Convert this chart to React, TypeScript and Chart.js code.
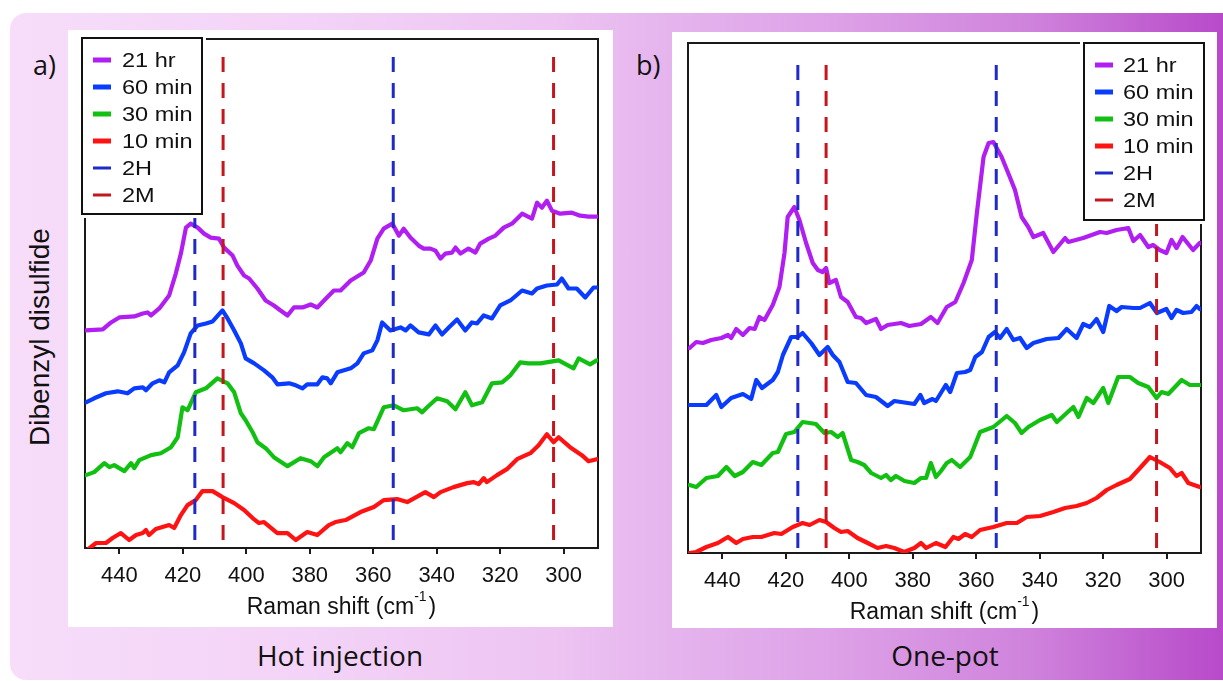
import React, { useEffect, useRef } from "react";
import { Chart, registerables } from "chart.js";

Chart.register(...registerables);

// ---------- data ----------
const TICK_VALUES = [440, 420, 400, 380, 360, 340, 320, 300];
const X_MIN = 289.2;
const X_MAX = 450.8;
const Y_MAX = 510;
const SERIES_LABELS = ["21 hr", "60 min", "30 min", "10 min"];
const REF_LABELS = ["2H", "2M"];
const PEAKS_2H = [416.2, 353.7];
const PEAKS_2M = [407.3, 303.2];
const PANEL_TITLES = ["Hot injection", "One-pot"];
const PANEL_TAGS = ["a)", "b)"];
const Y_TITLE = "Dibenzyl disulfide";

// Hot injection
const hot21hX = [450.5, 445.2, 442.6, 440.0, 435.3, 432.6, 431.1, 430.0, 427.4, 424.3, 422.2, 420.6, 419.0, 417.5, 415.3, 413.3, 411.2, 408.6, 407.0, 404.3, 402.8, 400.7, 399.1, 396.5, 393.9, 391.3, 389.2, 387.0, 385.0, 382.3, 379.7, 377.6, 375.5, 372.4, 370.3, 367.1, 363.0, 360.8, 358.7, 356.7, 354.0, 351.9, 350.4, 348.3, 345.7, 344.1, 342.0, 340.4, 338.8, 337.3, 335.2, 334.1, 332.5, 330.0, 327.8, 326.3, 323.6, 321.5, 318.9, 316.3, 313.1, 310.0, 308.4, 306.9, 305.3, 303.7, 301.1, 297.4, 294.8, 292.2, 289.6];
const hot21hY = [218, 219, 226, 231, 232, 235, 236, 233, 240, 253, 275, 295, 321, 325, 321, 315, 311, 310, 301, 293, 283, 273, 270, 260, 248, 243, 238, 233, 241, 241, 244, 241, 248, 258, 258, 268, 276, 288, 310, 320, 325, 313, 320, 311, 303, 300, 300, 298, 290, 295, 296, 301, 295, 300, 296, 305, 310, 313, 321, 325, 335, 330, 346, 341, 348, 338, 335, 336, 333, 332, 332];

const hot60X = [450.5, 447.9, 444.2, 440.5, 437.4, 435.3, 432.6, 431.6, 429.5, 427.4, 425.8, 424.3, 421.6, 419.6, 417.5, 415.3, 412.7, 410.6, 407.5, 405.9, 403.8, 401.7, 400.2, 397.5, 394.4, 391.8, 390.2, 386.5, 384.4, 382.3, 380.8, 377.6, 376.0, 374.5, 373.4, 371.3, 367.1, 365.0, 363.0, 360.3, 358.7, 357.2, 354.6, 351.4, 349.8, 348.3, 345.7, 342.5, 340.4, 338.3, 336.2, 333.6, 331.0, 328.9, 327.3, 325.2, 322.6, 320.0, 316.8, 313.1, 310.0, 308.4, 305.3, 302.1, 300.6, 298.5, 295.9, 293.2, 290.6, 289.6];
const hot60Y = [146, 150, 155, 157, 155, 160, 161, 158, 165, 168, 166, 176, 183, 196, 215, 223, 225, 227, 238, 230, 218, 205, 190, 185, 178, 171, 164, 165, 163, 160, 164, 164, 171, 170, 165, 176, 180, 185, 195, 198, 208, 226, 218, 221, 218, 223, 216, 214, 223, 214, 221, 229, 218, 226, 225, 233, 230, 243, 248, 258, 255, 260, 263, 264, 270, 260, 260, 251, 261, 261];

const hot30X = [450.5, 447.9, 444.7, 443.1, 441.6, 438.4, 436.3, 435.3, 433.7, 430.0, 426.9, 423.7, 421.6, 420.1, 418.5, 417.5, 415.9, 412.7, 409.1, 405.9, 403.8, 401.7, 400.2, 398.0, 396.5, 393.9, 391.3, 387.0, 382.9, 379.7, 377.6, 375.5, 371.3, 370.3, 368.2, 366.6, 364.5, 361.4, 359.8, 356.7, 353.5, 350.4, 346.2, 344.6, 343.0, 339.9, 336.7, 334.1, 331.0, 328.9, 325.7, 322.6, 319.4, 316.8, 313.7, 311.1, 307.4, 301.6, 296.9, 295.3, 291.7, 289.6];
const hot30Y = [73, 76, 85, 81, 83, 77, 85, 80, 88, 93, 95, 101, 111, 141, 138, 145, 156, 160, 170, 165, 156, 135, 128, 116, 106, 100, 91, 82, 90, 87, 82, 91, 100, 96, 105, 101, 115, 120, 119, 141, 143, 138, 140, 136, 141, 150, 147, 139, 156, 143, 146, 165, 166, 173, 186, 185, 185, 188, 180, 190, 184, 188];

const hot10X = [450.5, 448.9, 447.3, 444.2, 442.1, 439.5, 436.9, 434.7, 432.6, 431.6, 430.6, 428.5, 424.3, 422.7, 420.6, 418.5, 415.9, 413.8, 410.6, 407.5, 403.8, 400.7, 398.0, 396.0, 394.4, 390.2, 387.0, 384.4, 380.8, 377.6, 374.0, 371.9, 368.7, 364.0, 359.8, 356.7, 352.5, 349.3, 343.6, 340.9, 338.8, 334.7, 330.4, 328.3, 326.8, 325.2, 324.2, 321.0, 317.9, 314.7, 310.5, 307.9, 305.3, 303.2, 301.6, 298.0, 294.3, 292.2, 289.6];
const hot10Y = [-3, 1, 5, 5, 10, 15, 8, 13, 15, 18, 13, 19, 23, 20, 33, 43, 48, 57, 57, 51, 45, 38, 30, 25, 26, 15, 15, 8, 16, 13, 23, 26, 28, 36, 41, 48, 49, 46, 56, 51, 56, 61, 65, 66, 64, 70, 66, 73, 79, 89, 95, 103, 114, 106, 111, 101, 93, 87, 89];

// One-pot
const pot21hX = [450.3, 448.2, 446.1, 443.5, 440.3, 438.2, 437.2, 435.6, 433.5, 431.4, 429.8, 428.3, 426.7, 424.1, 422.0, 420.4, 419.4, 417.3, 415.7, 413.6, 411.5, 409.9, 408.4, 407.3, 406.3, 404.2, 402.6, 400.5, 397.9, 396.3, 394.7, 391.6, 390.0, 387.9, 383.7, 381.1, 377.4, 374.3, 372.2, 369.3, 366.6, 364.0, 361.4, 359.8, 357.7, 356.1, 354.6, 352.0, 349.3, 347.8, 345.7, 343.6, 342.0, 338.9, 335.7, 332.0, 331.0, 326.3, 321.0, 318.9, 315.8, 312.1, 310.5, 308.4, 305.8, 304.3, 302.2, 300.1, 298.5, 296.9, 295.0, 291.7, 289.6];
const pot21hY = [205, 211, 210, 213, 215, 218, 215, 224, 218, 225, 224, 236, 233, 248, 266, 300, 336, 346, 333, 310, 290, 283, 281, 285, 270, 273, 256, 251, 236, 235, 230, 234, 224, 228, 230, 227, 229, 236, 230, 246, 251, 270, 293, 340, 396, 410, 411, 396, 375, 363, 336, 326, 316, 320, 301, 315, 311, 315, 321, 320, 323, 325, 312, 318, 306, 308, 303, 300, 313, 305, 316, 303, 310];

const pot60X = [450.3, 445.0, 441.9, 440.3, 437.2, 433.5, 430.9, 429.3, 427.5, 424.1, 422.5, 420.9, 418.3, 416.2, 414.7, 412.0, 409.4, 406.8, 405.2, 403.1, 400.5, 397.9, 394.7, 391.6, 387.9, 385.8, 379.5, 377.6, 376.4, 373.8, 372.7, 369.6, 368.2, 366.1, 363.5, 361.9, 360.3, 358.2, 356.1, 354.1, 352.5, 350.4, 348.3, 346.2, 344.1, 342.0, 337.8, 334.1, 331.5, 328.4, 326.3, 324.2, 322.1, 320.0, 318.1, 315.8, 314.2, 310.5, 308.4, 305.3, 303.1, 300.1, 298.5, 296.9, 294.8, 292.2, 290.6, 289.6];
const pot60Y = [148, 148, 158, 146, 155, 159, 154, 173, 165, 173, 181, 198, 216, 216, 220, 210, 198, 206, 198, 191, 171, 170, 158, 156, 147, 152, 149, 158, 150, 154, 152, 168, 161, 180, 181, 183, 196, 201, 216, 221, 215, 224, 213, 215, 205, 210, 214, 215, 224, 215, 229, 226, 234, 221, 247, 242, 246, 245, 245, 250, 240, 244, 235, 243, 240, 241, 247, 244];

const pot30X = [450.3, 448.2, 445.0, 441.4, 438.7, 436.1, 433.5, 430.4, 427.7, 424.1, 422.5, 419.9, 417.3, 414.7, 412.5, 410.5, 407.8, 405.7, 403.6, 402.1, 399.4, 397.4, 395.3, 393.1, 390.0, 388.4, 386.9, 385.3, 382.6, 379.5, 377.4, 375.8, 374.3, 372.7, 371.1, 369.3, 367.7, 365.1, 361.9, 358.8, 354.6, 350.4, 347.8, 345.7, 343.6, 339.9, 336.2, 334.6, 331.5, 329.4, 327.8, 325.2, 323.1, 320.0, 318.4, 315.3, 311.6, 309.0, 305.8, 303.2, 301.6, 299.5, 295.3, 292.7, 289.6];
const pot30Y = [68, 66, 75, 77, 86, 77, 81, 91, 88, 100, 101, 119, 121, 131, 130, 129, 120, 121, 116, 120, 93, 91, 88, 80, 75, 78, 73, 77, 72, 70, 75, 75, 90, 76, 82, 90, 93, 86, 96, 121, 126, 137, 130, 120, 126, 133, 138, 131, 140, 146, 136, 155, 150, 165, 150, 176, 176, 170, 166, 155, 161, 159, 173, 168, 168];

const pot10X = [450.3, 448.2, 445.0, 441.4, 438.2, 435.6, 433.5, 430.4, 427.7, 423.6, 421.4, 417.8, 414.7, 412.5, 409.4, 407.3, 404.7, 402.6, 400.5, 397.4, 394.2, 391.1, 388.4, 385.8, 382.7, 379.5, 377.4, 375.8, 372.7, 369.7, 367.2, 365.6, 363.5, 361.4, 358.8, 354.6, 350.4, 347.2, 344.1, 339.9, 335.7, 332.0, 328.4, 325.2, 322.1, 318.9, 315.8, 311.6, 308.4, 305.3, 302.2, 299.0, 296.9, 295.3, 293.2, 289.6];
const pot10Y = [0, 1, 6, 10, 16, 10, 14, 16, 16, 20, 19, 26, 30, 28, 33, 31, 25, 21, 22, 15, 10, 5, 7, 5, 1, 5, 10, 5, 10, 6, 16, 14, 19, 16, 23, 26, 30, 30, 36, 37, 41, 45, 47, 50, 55, 63, 68, 74, 85, 96, 91, 85, 77, 80, 70, 66];

// ---------- styles ----------
const SERIES_COLORS = ["#b01ef2", "#0a3cff", "#12c012", "#ff1212"];
const REF_COLORS = ["#1f2bc8", "#c4161f"];
const AXIS_COLOR = "#1a1a1a";
const TEXT_COLOR = "#111111";
const SANS = '"Liberation Sans", Arial, Helvetica, sans-serif';
const DECOR = '"Open Sans", "Noto Sans", sans-serif';

type PanelCfg = {
  left: number;
  top: number;
  w: number;
  h: number;
  pad: { left: number; right: number; top: number; bottom: number };
  axisH: number;
  refTop: number;
  legend: { x: number; y: number; w: number; h: number; swX: number; txtX: number; row0: number; step: number };
  series: { xs: number[]; ys: number[] }[];
};

const refData = (peaks: number[], top: number) => [
  { x: peaks[0], y: top },
  { x: peaks[0], y: 0 },
  { x: (peaks[0] + peaks[1]) / 2, y: null },
  { x: peaks[1], y: top },
  { x: peaks[1], y: 0 },
];

function Panel({ cfg }: { cfg: PanelCfg }) {
  const ref = useRef<HTMLCanvasElement | null>(null);
  useEffect(() => {
    const canvas = ref.current;
    if (!canvas) return;

    const framePlugin = {
      id: "frame",
      beforeDatasetsDraw(chart: any) {
        const { ctx, chartArea } = chart;
        const { left, right, top, bottom } = chartArea;
        ctx.save();
        ctx.strokeStyle = AXIS_COLOR;
        ctx.lineWidth = 2;
        ctx.beginPath();
        ctx.moveTo(left, bottom);
        ctx.lineTo(left, top);
        ctx.lineTo(right, top);
        ctx.lineTo(right, bottom);
        ctx.stroke();
        ctx.restore();
      },
    };

    const legendPlugin = {
      id: "boxLegend",
      afterDraw(chart: any) {
        const { ctx } = chart;
        const L = cfg.legend;
        ctx.save();
        ctx.fillStyle = "#ffffff";
        ctx.fillRect(L.x - 4, L.y - 4, L.w + 8, L.h + 8);
        ctx.strokeStyle = "#111";
        ctx.lineWidth = 2;
        ctx.strokeRect(L.x, L.y, L.w, L.h);
        const items = [
          ...SERIES_LABELS.map((t, i) => ({ t, c: SERIES_COLORS[i], lw: 5 })),
          ...REF_LABELS.map((t, i) => ({ t, c: REF_COLORS[i], lw: 3 })),
        ];
        items.forEach((it, i) => {
          const y = L.row0 + i * L.step;
          ctx.strokeStyle = it.c;
          ctx.lineWidth = it.lw;
          ctx.beginPath();
          ctx.moveTo(L.swX, y);
          ctx.lineTo(L.swX + 18, y);
          ctx.stroke();
          ctx.save();
          ctx.translate(L.txtX, y);
          ctx.scale(1.12, 1);
          ctx.fillStyle = TEXT_COLOR;
          ctx.font = `21px ${SANS}`;
          ctx.textBaseline = "middle";
          ctx.textAlign = "left";
          ctx.fillText(it.t, 0, 1);
          ctx.restore();
        });
        ctx.restore();
      },
    };

    const titlePlugin = {
      id: "axisTitle",
      afterDraw(chart: any) {
        const { ctx, chartArea } = chart;
        const main = "Raman shift (cm";
        const sup = "-1";
        const close = ")";
        ctx.save();
        ctx.fillStyle = TEXT_COLOR;
        ctx.textBaseline = "alphabetic";
        ctx.textAlign = "left";
        ctx.font = `23px ${SANS}`;
        const wMain = ctx.measureText(main).width;
        const wClose = ctx.measureText(close).width;
        ctx.font = `14px ${SANS}`;
        const wSup = ctx.measureText(sup).width;
        const total = wMain + wSup + 2 + wClose;
        const cx = (chartArea.left + chartArea.right) / 2;
        const base = chartArea.bottom + 65.5;
        let x = cx - total / 2;
        ctx.font = `23px ${SANS}`;
        ctx.fillText(main, x, base);
        x += wMain;
        ctx.font = `14px ${SANS}`;
        ctx.fillText(sup, x, base - 13);
        x += wSup + 2;
        ctx.font = `23px ${SANS}`;
        ctx.fillText(close, x, base);
        ctx.restore();
      },
    };

    const seriesSets = cfg.series.map((s, i) => ({
      label: SERIES_LABELS[i],
      data: s.xs.map((x, j) => ({ x, y: s.ys[j] })),
      borderColor: SERIES_COLORS[i],
      backgroundColor: SERIES_COLORS[i],
      borderWidth: 4.2,
      pointRadius: 0,
      tension: 0,
      fill: false,
      order: 2,
      borderJoinStyle: "round",
      borderCapStyle: "round",
    }));
    const refSets = [PEAKS_2H, PEAKS_2M].map((p, i) => ({
      label: REF_LABELS[i],
      data: refData(p, cfg.refTop),
      borderColor: REF_COLORS[i],
      backgroundColor: REF_COLORS[i],
      borderWidth: 3,
      borderDash: [15, 11],
      pointRadius: 0,
      fill: false,
      spanGaps: false,
      order: 1,
    }));

    const chart = new Chart(canvas, {
      type: "line",
      data: { datasets: [...seriesSets, ...refSets] as any },
      options: {
        responsive: false,
        animation: false,
        devicePixelRatio: 1,
        layout: { padding: cfg.pad },
        plugins: { legend: { display: false }, tooltip: { enabled: false } },
        scales: {
          x: {
            type: "linear",
            reverse: true,
            min: X_MIN,
            max: X_MAX,
            afterBuildTicks: (scale: any) => {
              scale.ticks = TICK_VALUES.map((v) => ({ value: v }));
            },
            afterFit: (scale: any) => {
              scale.height = cfg.axisH;
              scale.paddingLeft = 0;
              scale.paddingRight = 0;
            },
            ticks: {
              autoSkip: false,
              maxRotation: 0,
              padding: 9,
              color: TEXT_COLOR,
              font: { family: SANS, size: 22 },
              callback: (v: any) => String(v),
            },
            grid: {
              drawOnChartArea: false,
              drawTicks: true,
              tickLength: 6,
              color: AXIS_COLOR,
              lineWidth: 2,
            },
            border: { display: true, color: AXIS_COLOR, width: 2 },
          },
          y: { type: "linear", display: false, min: 0, max: Y_MAX },
        },
      } as any,
      plugins: [framePlugin, legendPlugin, titlePlugin],
    });
    return () => chart.destroy();
  }, []);
  return (
    <canvas
      ref={ref}
      width={cfg.w}
      height={cfg.h}
      style={{ position: "absolute", left: cfg.left, top: cfg.top, width: cfg.w, height: cfg.h }}
    />
  );
}

const leftCfg: PanelCfg = {
  left: 68,
  top: 30,
  w: 545,
  h: 597,
  pad: { left: 17, right: 15, top: 9, bottom: 0 },
  axisH: 79,
  refTop: 492,
  legend: { x: 14, y: 8, w: 120, h: 176, swX: 25, txtX: 54, row0: 30, step: 27 },
  series: [
    { xs: hot21hX, ys: hot21hY },
    { xs: hot60X, ys: hot60Y },
    { xs: hot30X, ys: hot30Y },
    { xs: hot10X, ys: hot10Y },
  ],
};

const rightCfg: PanelCfg = {
  left: 672,
  top: 32,
  w: 545,
  h: 596,
  pad: { left: 16, right: 16, top: 11, bottom: 0 },
  axisH: 75,
  refTop: 488,
  legend: { x: 412, y: 11, w: 120, h: 177, swX: 423, txtX: 451, row0: 33, step: 27 },
  series: [
    { xs: pot21hX, ys: pot21hY },
    { xs: pot60X, ys: pot60Y },
    { xs: pot30X, ys: pot30Y },
    { xs: pot10X, ys: pot10Y },
  ],
};

export default function App() {
  const decorText = (text: string, style: React.CSSProperties) => (
    <div
      style={{
        position: "absolute",
        fontFamily: DECOR,
        color: TEXT_COLOR,
        whiteSpace: "nowrap",
        lineHeight: 1,
        ...style,
      }}
    >
      {text}
    </div>
  );
  return (
    <div
      style={{
        position: "fixed",
        left: 0,
        top: 0,
        width: 1223,
        height: 681,
        background: "#ffffff",
        overflow: "hidden",
      }}
    >
      <div
        style={{
          position: "absolute",
          left: 10,
          top: 13,
          width: 1213,
          height: 667,
          borderRadius: "16px 0 0 16px",
          background:
            "linear-gradient(to right, #f7ddfa 0%, #f3d3f7 25%, #edc4f2 45%, #e6b6ee 53%, #dda1e7 68%, #cf83dc 84%, #b84aca 100%)",
        }}
      />
      <div style={{ position: "absolute", left: 68, top: 30, width: 545, height: 597, background: "#fff" }} />
      <div style={{ position: "absolute", left: 672, top: 32, width: 545, height: 596, background: "#fff" }} />
      <Panel cfg={leftCfg} />
      <Panel cfg={rightCfg} />
      {decorText(PANEL_TAGS[0], { left: 33, top: 51, fontSize: 27 })}
      {decorText(PANEL_TAGS[1], { left: 636, top: 51, fontSize: 27 })}
      {decorText(PANEL_TITLES[0], { left: 340, top: 641, fontSize: 28, transform: "translateX(-50%)" })}
      {decorText(PANEL_TITLES[1], { left: 945, top: 641, fontSize: 28, transform: "translateX(-50%)" })}
      <div
        style={{
          position: "absolute",
          left: 40,
          top: 337,
          fontFamily: SANS,
          fontSize: 28,
          color: TEXT_COLOR,
          whiteSpace: "nowrap",
          lineHeight: 1,
          transform: "translate(-50%, -50%) rotate(-90deg)",
        }}
      >
        {Y_TITLE}
      </div>
    </div>
  );
}
